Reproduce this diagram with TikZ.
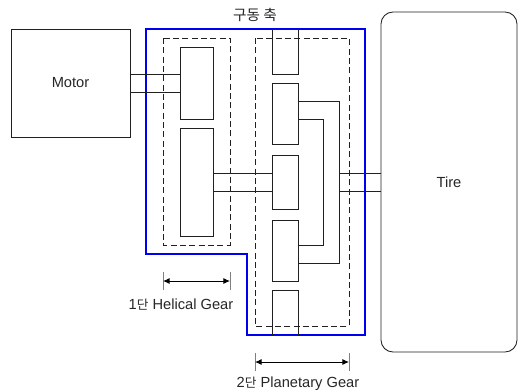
\documentclass[tikz,border=0pt]{standalone}
\usepackage{fontspec}
\setmainfont{Liberation Sans}
\newfontfamily\krfont{Noto Sans CJK KR}
\usepackage{xcolor}
\usetikzlibrary{arrows.meta}
\definecolor{housingblue}{HTML}{0000F0}
\definecolor{linegray}{HTML}{202020}
\tikzset{
  block/.style={draw=linegray,line width=0.65pt,inner sep=0pt,outer sep=0pt},
  gear/.style={block,minimum width=#1*0.75pt},
  shaft/.style={draw=linegray,line width=0.65pt},
  housing/.style={draw=housingblue,line width=1.9pt,line join=miter},
  stage/.style={draw=linegray,dashed,dash pattern=on 4.5pt off 2.5pt,line width=0.65pt},
  span/.style={draw=black,line width=0.65pt,{Latex[length=5pt,width=4.5pt]}-{Latex[length=5pt,width=4.5pt]}},
  tick/.style={draw=gray,line width=0.65pt},
  label/.style={inner sep=0pt,text=black!85,font=\fontsize{11}{13}\selectfont}
}

\begin{document}
\begin{tikzpicture}[x=0.75pt,y=-0.75pt]
  \useasboundingbox (0,0) rectangle (522,390);
  % outer blocks
  \node[block,minimum width=89.25pt,minimum height=81pt] (motor) at (70.5,83) {};
  \node[label] at (motor) {Motor};
  \node[block,rounded corners=9pt,minimum width=102pt,minimum height=255pt] (tire) at (449,182) {};
  \node[label] at (tire) {Tire};
  % housing and stages
  \draw[housing] (146,29) -- (365,29) -- (365,335) -- (247,335) -- (247,254) -- (146,254) -- cycle;
  \draw[stage] (163,38) rectangle (230,245);
  \draw[stage] (255,38) rectangle (349,326);
  % helical gears
  \node[gear=33,minimum height=54pt] (hg1) at (196.5,83) {};
  \node[gear=33,minimum height=81pt] (hg2) at (196.5,182) {};
  % planetary gears
  \foreach \n/\y/\h in {1/51.5/45,2/113.5/61,3/182/54,4/250.5/61,5/312.5/45} {
    \node[gear=26,minimum height=\h*0.75pt] (pg\n) at (285,\y) {};
  }
  % shafts
  \foreach \y in {74,92} {
    \draw[shaft] (motor.east |- 0,\y) -- (hg1.west |- 0,\y);
  }
  \foreach \y in {173,191} {
    \draw[shaft] (hg2.east |- 0,\y) -- (pg3.west |- 0,\y);
    \draw[shaft] (339,\y) -- (tire.west |- 0,\y);
  }
  \draw[shaft] (pg2.east |- 0,101) -- (339,101) -- (339,263) -- (pg4.east |- 0,263);
  \draw[shaft] (pg2.east |- 0,119) -- (323,119) -- (323,245) -- (pg4.east |- 0,245);
  % dimensions
  \coordinate (a1) at (163,281);
  \coordinate (a2) at (230,281);
  \coordinate (b1) at (255,362);
  \coordinate (b2) at (349,362);
  \foreach \c in {a1,a2,b1,b2} {
    \draw[tick] ([yshift=-6.75pt]\c) -- ([yshift=6.75pt]\c);
  }
  \draw[span] (a1) -- (a2);
  \draw[span] (b1) -- (b2);
  \node[label] (toplabel) at (255,15) {{\krfont\fontsize{11}{13}\selectfont 구동 축}};
  \node[label] (hlabel) at (181,304.5) {1{\krfont\fontsize{9.5}{11}\selectfont 단} Helical Gear};
  \node[label] (plabel) at (298,383.5) {2{\krfont\fontsize{9.5}{11}\selectfont 단} Planetary Gear};
\end{tikzpicture}
\end{document}
